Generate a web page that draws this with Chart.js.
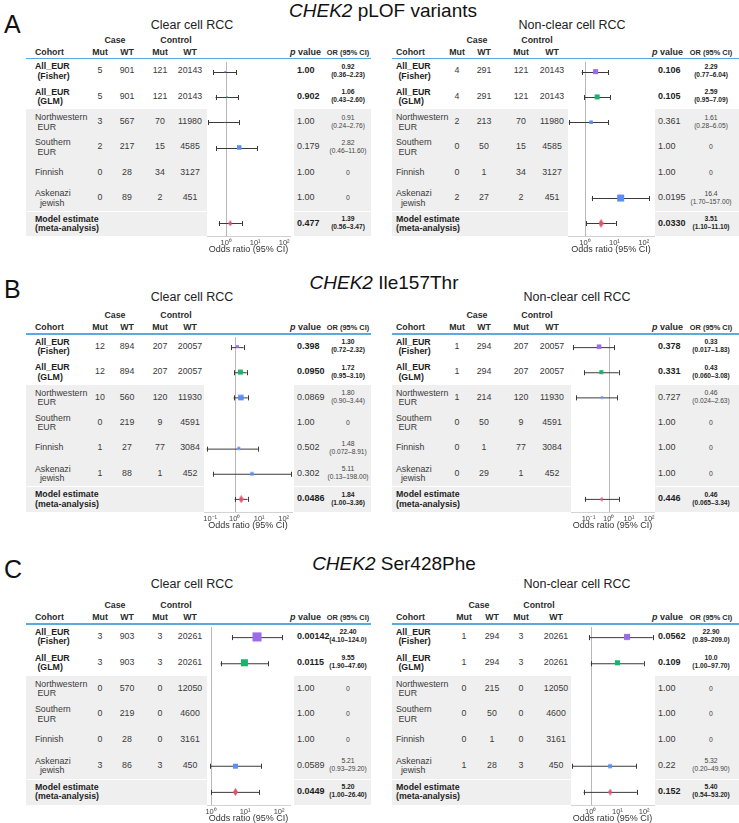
<!DOCTYPE html>
<html>
<head>
<meta charset="utf-8">
<script src="https://cdn.jsdelivr.net/npm/chart.js@4.4.1/dist/chart.umd.min.js"></script>
<style>
    body { margin: 0; width: 739px; height: 823px; overflow: hidden; background: #fff; position: relative;
        font-family: "Liberation Sans", Arial, sans-serif; color: #222; }
    .t { position: absolute; white-space: pre; line-height: 1.1; }
    .r { position: absolute; }
    canvas { position: absolute; }
</style>
</head>
<body>
<script>
// ---- data ----
const cohorts = ['All_EUR\n (Fisher)', 'All_EUR\n (GLM)', 'Northwestern\n EUR', 'Southern\n EUR', 'Finnish', 'Askenazi\n  jewish', 'Model estimate\n(meta-analysis)'];
const titles = ['pLOF variants', 'Ile157Thr', 'Ser428Phe'];
const subtitles = ['Clear cell RCC', 'Non-clear cell RCC'];

// A: pLOF, clear cell
const aCcCaseMut = [5, 5, 3, 2, 0, 0];
const aCcCaseWt = [901, 901, 567, 217, 28, 89];
const aCcCtrlMut = [121, 121, 70, 15, 34, 2];
const aCcCtrlWt = [20143, 20143, 11980, 4585, 3127, 451];
const aCcP = ['1.00', '0.902', '1.00', '0.179', '1.00', '1.00', '0.477'];
const aCcOr = ['0.92', '1.06', '0.91', '2.82', '0', '0', '1.39'];
const aCcLow = ['0.36', '0.43', '0.24', '0.46', '', '', '0.56'];
const aCcHigh = ['2.23', '2.60', '2.76', '11.60', '', '', '3.47'];
const aCcWeight = [1.5, 1.5, 1, 4.5, 0, 0, 6];

// A: pLOF, non-clear cell
const aNcCaseMut = [4, 4, 2, 0, 0, 2];
const aNcCaseWt = [291, 291, 213, 50, 1, 27];
const aNcCtrlMut = [121, 121, 70, 15, 34, 2];
const aNcCtrlWt = [20143, 20143, 11980, 4585, 3127, 451];
const aNcP = ['0.106', '0.105', '0.361', '1.00', '1.00', '0.0195', '0.0330'];
const aNcOr = ['2.29', '2.59', '1.61', '0', '0', '16.4', '3.51'];
const aNcLow = ['0.77', '0.95', '0.28', '', '', '1.70', '1.10'];
const aNcHigh = ['6.04', '7.09', '6.05', '', '', '157.00', '11.10'];
const aNcWeight = [5, 5, 3.5, 0, 0, 7, 9];

// B: Ile157Thr, clear cell
const bCcCaseMut = [12, 12, 10, 0, 1, 1];
const bCcCaseWt = [894, 894, 560, 219, 27, 88];
const bCcCtrlMut = [207, 207, 120, 9, 77, 1];
const bCcCtrlWt = [20057, 20057, 11930, 4591, 3084, 452];
const bCcP = ['0.398', '0.0950', '0.0869', '1.00', '0.502', '0.302', '0.0486'];
const bCcOr = ['1.30', '1.72', '1.80', '0', '1.48', '5.11', '1.84'];
const bCcLow = ['0.72', '0.95', '0.90', '', '0.072', '0.13', '1.00'];
const bCcHigh = ['2.32', '3.10', '3.44', '', '8.91', '198.00', '3.36'];
const bCcWeight = [3, 5, 5.5, 0, 3, 3.5, 8];

// B: Ile157Thr, non-clear cell
const bNcCaseMut = [1, 1, 1, 0, 0, 0];
const bNcCaseWt = [294, 294, 214, 50, 1, 29];
const bNcCtrlMut = [207, 207, 120, 9, 77, 1];
const bNcCtrlWt = [20057, 20057, 11930, 4591, 3084, 452];
const bNcP = ['0.378', '0.331', '0.727', '1.00', '1.00', '1.00', '0.446'];
const bNcOr = ['0.33', '0.43', '0.46', '0', '0', '0', '0.46'];
const bNcLow = ['0.017', '0.060', '0.024', '', '', '', '0.065'];
const bNcHigh = ['1.83', '3.08', '2.63', '', '', '', '3.34'];
const bNcWeight = [4.5, 4, 2.5, 0, 0, 0, 5];

// C: Ser428Phe, clear cell
const cCcCaseMut = [3, 3, 0, 0, 0, 3];
const cCcCaseWt = [903, 903, 570, 219, 28, 86];
const cCcCtrlMut = [3, 3, 0, 0, 0, 3];
const cCcCtrlWt = [20261, 20261, 12050, 4600, 3161, 450];
const cCcP = ['0.00142', '0.0115', '1.00', '1.00', '1.00', '0.0589', '0.0449'];
const cCcOr = ['22.40', '9.55', '0', '0', '0', '5.21', '5.20'];
const cCcLow = ['4.10', '1.90', '', '', '', '0.93', '1.00'];
const cCcHigh = ['124.0', '47.60', '', '', '', '29.20', '26.40'];
const cCcWeight = [9, 7, 0, 0, 0, 5, 8];

// C: Ser428Phe, non-clear cell
const cNcCaseMut = [1, 1, 0, 0, 0, 1];
const cNcCaseWt = [294, 294, 215, 50, 1, 28];
const cNcCtrlMut = [3, 3, 0, 0, 0, 3];
const cNcCtrlWt = [20261, 20261, 12050, 4600, 3161, 450];
const cNcP = ['0.0562', '0.109', '1.00', '1.00', '1.00', '0.22', '0.152'];
const cNcOr = ['22.90', '10.0', '0', '0', '0', '5.32', '5.40'];
const cNcLow = ['0.89', '1.00', '', '', '', '0.20', '0.54'];
const cNcHigh = ['209.0', '97.70', '', '', '', '49.90', '53.20'];
const cNcWeight = [6, 5, 0, 0, 0, 4, 7];

// ---- style / layout ----
const PURPLE = '#9b6ae8';
const GREEN = '#19b36b';
const BLUE = '#5b8ef5';
const RED = '#e24f68';
const GREY_BG = '#efefef';
const RULE = '#5aaadf';
const rowColors = [PURPLE, GREEN, BLUE, BLUE, BLUE, BLUE, RED];

const leftCols = { tableL: 26, cohortX: 35, cols: [100, 127, 160, 190], caseHdr: 115, ctrlHdr: 176, pHdrL: 290, pValL: 297, orX: 348, greyR: 371 };
const rightCols = { tableL: 392, cohortX: 396, cols: [457, 484, 521, 552], caseHdr: 477, ctrlHdr: 537, pHdrL: 652, pValL: 658, orX: 711, greyR: 739 };
const rightColsC = { ...rightCols, cols: [464, 492, 521, 556], caseHdr: 479, ctrlHdr: 539 };

const figures = [
    { letter: 'A', title: titles[0], titleX: 383, titleY: 11, letterY: 25, top: 58.5, rowH: 25.4, subY: 26,
        panels: [
            { cols: leftCols, subX: 192, plotL: 207, plotR: 290, logMin: -0.66, logMax: 2.2, ticks: [1, 10, 100],
                caseMut: aCcCaseMut, caseWt: aCcCaseWt, ctrlMut: aCcCtrlMut, ctrlWt: aCcCtrlWt, p: aCcP, or: aCcOr, low: aCcLow, high: aCcHigh, weight: aCcWeight },
            { cols: rightCols, subX: 572, plotL: 568, plotR: 654, logMin: -0.58, logMax: 2.35, ticks: [1, 10, 100],
                caseMut: aNcCaseMut, caseWt: aNcCaseWt, ctrlMut: aNcCtrlMut, ctrlWt: aNcCtrlWt, p: aNcP, or: aNcOr, low: aNcLow, high: aNcHigh, weight: aNcWeight },
        ] },
    { letter: 'B', title: titles[1], titleX: 384, titleY: 283, letterY: 290, top: 334, rowH: 25.4, subY: 298,
        panels: [
            { cols: leftCols, subX: 192, plotL: 204, plotR: 292, logMin: -1.25, logMax: 2.34, ticks: [0.1, 1, 10, 100],
                caseMut: bCcCaseMut, caseWt: bCcCaseWt, ctrlMut: bCcCtrlMut, ctrlWt: bCcCtrlWt, p: bCcP, or: bCcOr, low: bCcLow, high: bCcHigh, weight: bCcWeight },
            { cols: rightCols, subX: 577, plotL: 571, plotR: 654, logMin: -1.87, logMax: 2.24, ticks: [0.1, 1, 10, 100],
                caseMut: bNcCaseMut, caseWt: bNcCaseWt, ctrlMut: bNcCtrlMut, ctrlWt: bNcCtrlWt, p: bNcP, or: bNcOr, low: bNcLow, high: bNcHigh, weight: bNcWeight },
        ] },
    { letter: 'C', title: titles[2], titleX: 394, titleY: 564, letterY: 570, top: 624, rowH: 25.8, subY: 585,
        panels: [
            { cols: leftCols, subX: 192, plotL: 207, plotR: 290, logMin: -0.12, logMax: 2.32, ticks: [1, 10, 100],
                caseMut: cCcCaseMut, caseWt: cCcCaseWt, ctrlMut: cCcCtrlMut, ctrlWt: cCcCtrlWt, p: cCcP, or: cCcOr, low: cCcLow, high: cCcHigh, weight: cCcWeight },
            { cols: rightColsC, subX: 577, plotL: 571, plotR: 654, logMin: -0.74, logMax: 2.37, ticks: [1, 10, 100],
                caseMut: cNcCaseMut, caseWt: cNcCaseWt, ctrlMut: cNcCtrlMut, ctrlWt: cNcCtrlWt, p: cNcP, or: cNcOr, low: cNcLow, high: cNcHigh, weight: cNcWeight },
        ] },
];

// ---- helpers ----
function text(str, x, y, opts = {}) {
    const el = document.createElement('div');
    const align = opts.align || 'center';
    const tx = align === 'center' ? '-50%' : (align === 'right' ? '-100%' : '0');

    el.className = 't';
    el.style.left = `${x}px`;
    el.style.top = `${y}px`;
    el.style.transform = `translate(${tx}, -50%)`;
    el.style.fontSize = `${opts.size || 8.8}px`;
    el.style.fontWeight = opts.bold ? 'bold' : 'normal';
    el.style.color = opts.color || '#2b2b2b';
    if (opts.lh) el.style.lineHeight = `${opts.lh}px`;
    if (opts.html) el.innerHTML = str; else el.textContent = str;
    document.body.appendChild(el);
}

function rect(x, y, w, h, color) {
    const el = document.createElement('div');
    el.className = 'r';
    el.style.left = `${x}px`;
    el.style.top = `${y}px`;
    el.style.width = `${w}px`;
    el.style.height = `${h}px`;
    el.style.background = color;
    document.body.appendChild(el);
}

const SUP = { '-': '\u207b', '0': '\u2070', '1': '\u00b9', '2': '\u00b2' };
function powerLabel(value) {
    const exp = String(Math.round(Math.log10(value)));
    return '10' + exp.split('').map((c) => SUP[c]).join('');
}

function diamond(h) {
    const w = Math.max(3, Math.round(h * 0.6));
    const c = document.createElement('canvas');
    c.width = w;
    c.height = h;
    const g = c.getContext('2d');
    g.fillStyle = RED;
    g.beginPath();
    g.moveTo(w / 2, 0);
    g.lineTo(w, h / 2);
    g.lineTo(w / 2, h);
    g.lineTo(0, h / 2);
    g.closePath();
    g.fill();
    return c;
}

// reference line at OR = 1 and the 95% CI whiskers, drawn under the boxes
const forestPlugin = {
    id: 'forest',
    beforeDatasetsDraw(chart) {
        const { ctx, chartArea: a, scales: { x, y } } = chart;
        ctx.save();
        ctx.lineWidth = 1;

        const x1 = Math.round(x.getPixelForValue(1)) + 0.5;
        ctx.strokeStyle = '#b8b8b8';
        ctx.beginPath();
        ctx.moveTo(x1, a.top + 3);
        ctx.lineTo(x1, a.bottom);
        ctx.stroke();

        ctx.strokeStyle = '#3a3a3a';
        chart.data.datasets[0].data.forEach((pt) => {
            const yy = Math.round(y.getPixelForValue(pt.y)) + 0.5;
            const xl = Math.max(x.getPixelForValue(pt.lo), a.left);
            const xh = Math.min(x.getPixelForValue(pt.hi), a.right - 1);
            ctx.beginPath();
            ctx.moveTo(xl, yy);
            ctx.lineTo(xh, yy);
            ctx.moveTo(Math.round(xl) + 0.5, yy - 2.5);
            ctx.lineTo(Math.round(xl) + 0.5, yy + 2.5);
            ctx.moveTo(Math.round(xh) + 0.5, yy - 2.5);
            ctx.lineTo(Math.round(xh) + 0.5, yy + 2.5);
            ctx.stroke();
        });
        ctx.restore();
    },
};

function buildForest(fig, p) {
    const pad = 14;
    const axisH = 19;
    const w = p.plotR - p.plotL + 2 * pad;
    const h = 7 * fig.rowH + axisH;
    const canvas = document.createElement('canvas');
    canvas.width = w;
    canvas.height = h;
    canvas.style.left = `${p.plotL - pad}px`;
    canvas.style.top = `${fig.top}px`;
    canvas.style.width = `${w}px`;
    canvas.style.height = `${h}px`;
    document.body.appendChild(canvas);

    const points = [];
    const colors = [];
    const radii = [];
    const styles = [];
    p.or.forEach((s, i) => {
        const est = parseFloat(s);
        if (!(est > 0)) return;
        points.push({ x: est, y: i, lo: parseFloat(p.low[i]), hi: parseFloat(p.high[i]) });
        colors.push(rowColors[i]);
        if (i === 6) {
            styles.push(diamond(p.weight[i]));
            radii.push(3);
        } else {
            styles.push('rect');
            radii.push(Math.max(p.weight[i], 0.2) / Math.SQRT2);
        }
    });

    new Chart(canvas, {
        type: 'scatter',
        data: {
            datasets: [{
                data: points,
                pointStyle: styles,
                pointRadius: radii,
                pointHoverRadius: radii,
                backgroundColor: colors,
                borderWidth: 0,
            }],
        },
        options: {
            responsive: false,
            animation: false,
            devicePixelRatio: 1,
            events: [],
            layout: { autoPadding: false, padding: { left: pad, right: pad, top: 0, bottom: 0 } },
            plugins: { legend: { display: false }, tooltip: { enabled: false } },
            scales: {
                x: {
                    type: 'logarithmic',
                    min: Math.pow(10, p.logMin),
                    max: Math.pow(10, p.logMax),
                    afterBuildTicks: (scale) => { scale.ticks = p.ticks.map((v) => ({ value: v })); },
                    afterFit: (scale) => { scale.height = axisH; },
                    grid: { display: false, drawTicks: false },
                    border: { display: true, color: '#d0d0d0', width: 1 },
                    ticks: {
                        autoSkip: false,
                        maxRotation: 0,
                        padding: 2,
                        color: '#444',
                        font: { size: 7.5, family: '"Liberation Sans", Arial, sans-serif' },
                        callback: (v) => powerLabel(v),
                    },
                    title: {
                        display: true,
                        text: 'Odds ratio (95% CI)',
                        color: '#333',
                        padding: 0,
                        font: { size: 9, family: '"Liberation Sans", Arial, sans-serif' },
                    },
                },
                y: { type: 'linear', min: -0.5, max: 6.5, reverse: true, display: false },
            },
        },
        plugins: [forestPlugin],
    });
}

function buildPanel(fig, p, subtitle) {
    const c = p.cols;
    const top = fig.top;
    const rh = fig.rowH;
    const pGreyL = c.pValL - 3;

    // backgrounds: subgroup rows and model row are shaded
    rect(c.tableL, top + 2 * rh, p.plotL - c.tableL, 5 * rh, GREY_BG);
    rect(pGreyL, top + 2 * rh, c.greyR - pGreyL, 5 * rh, GREY_BG);
    rect(c.tableL, top + 6 * rh, p.plotL - c.tableL, 1, '#fff');
    rect(pGreyL, top + 6 * rh, c.greyR - pGreyL, 1, '#fff');
    rect(c.tableL, top - 1, c.greyR - c.tableL, 1.5, RULE);

    // headers
    text(subtitle, p.subX, fig.subY, { size: 12.5, color: '#222' });
    text('Case', c.caseHdr, top - 18, { bold: true });
    text('Control', c.ctrlHdr, top - 18, { bold: true });
    text('Cohort', c.cohortX, top - 6, { bold: true, align: 'left' });
    ['Mut', 'WT', 'Mut', 'WT'].forEach((s, j) => text(s, c.cols[j], top - 6, { bold: true }));
    text('<i>p</i> value', c.pHdrL, top - 6, { bold: true, align: 'left', html: true, size: 9 });
    text('OR (95% CI)', c.orX, top - 6, { bold: true, size: 7.4 });

    // rows
    cohorts.forEach((name, i) => {
        const y = top + (i + 0.5) * rh;
        const bold = i < 2 || i === 6;
        text(name, c.cohortX, y, { bold, align: 'left', lh: 9.5, color: bold ? '#1e1e1e' : '#3a3a3a' });
        if (i < 6) {
            [p.caseMut, p.caseWt, p.ctrlMut, p.ctrlWt].forEach((arr, j) => {
                text(String(arr[i]), c.cols[j], y, { color: '#3a3a3a' });
            });
        }
        text(p.p[i], c.pValL, y, { bold, align: 'left', size: 9, color: bold ? '#1e1e1e' : '#3a3a3a' });
        if (p.or[i] === '0') {
            text('0', c.orX, y, { size: 6.8, color: '#444' });
        } else {
            text(p.or[i], c.orX, y - 4.5, { bold, size: 6.8, color: bold ? '#1e1e1e' : '#444' });
            text(`(${p.low[i]}\u2013${p.high[i]})`, c.orX, y + 3.5, { bold, size: 6.6, color: bold ? '#1e1e1e' : '#444' });
        }
    });

    buildForest(fig, p);
}

figures.forEach((fig) => {
    text(fig.letter, 4, fig.letterY, { size: 25, align: 'left', color: '#111' });
    text(`<i>CHEK2</i> ${fig.title}`, fig.titleX, fig.titleY, { size: 19, html: true, color: '#111' });
    fig.panels.forEach((p, k) => buildPanel(fig, p, subtitles[k]));
});
</script>
</body>
</html>
